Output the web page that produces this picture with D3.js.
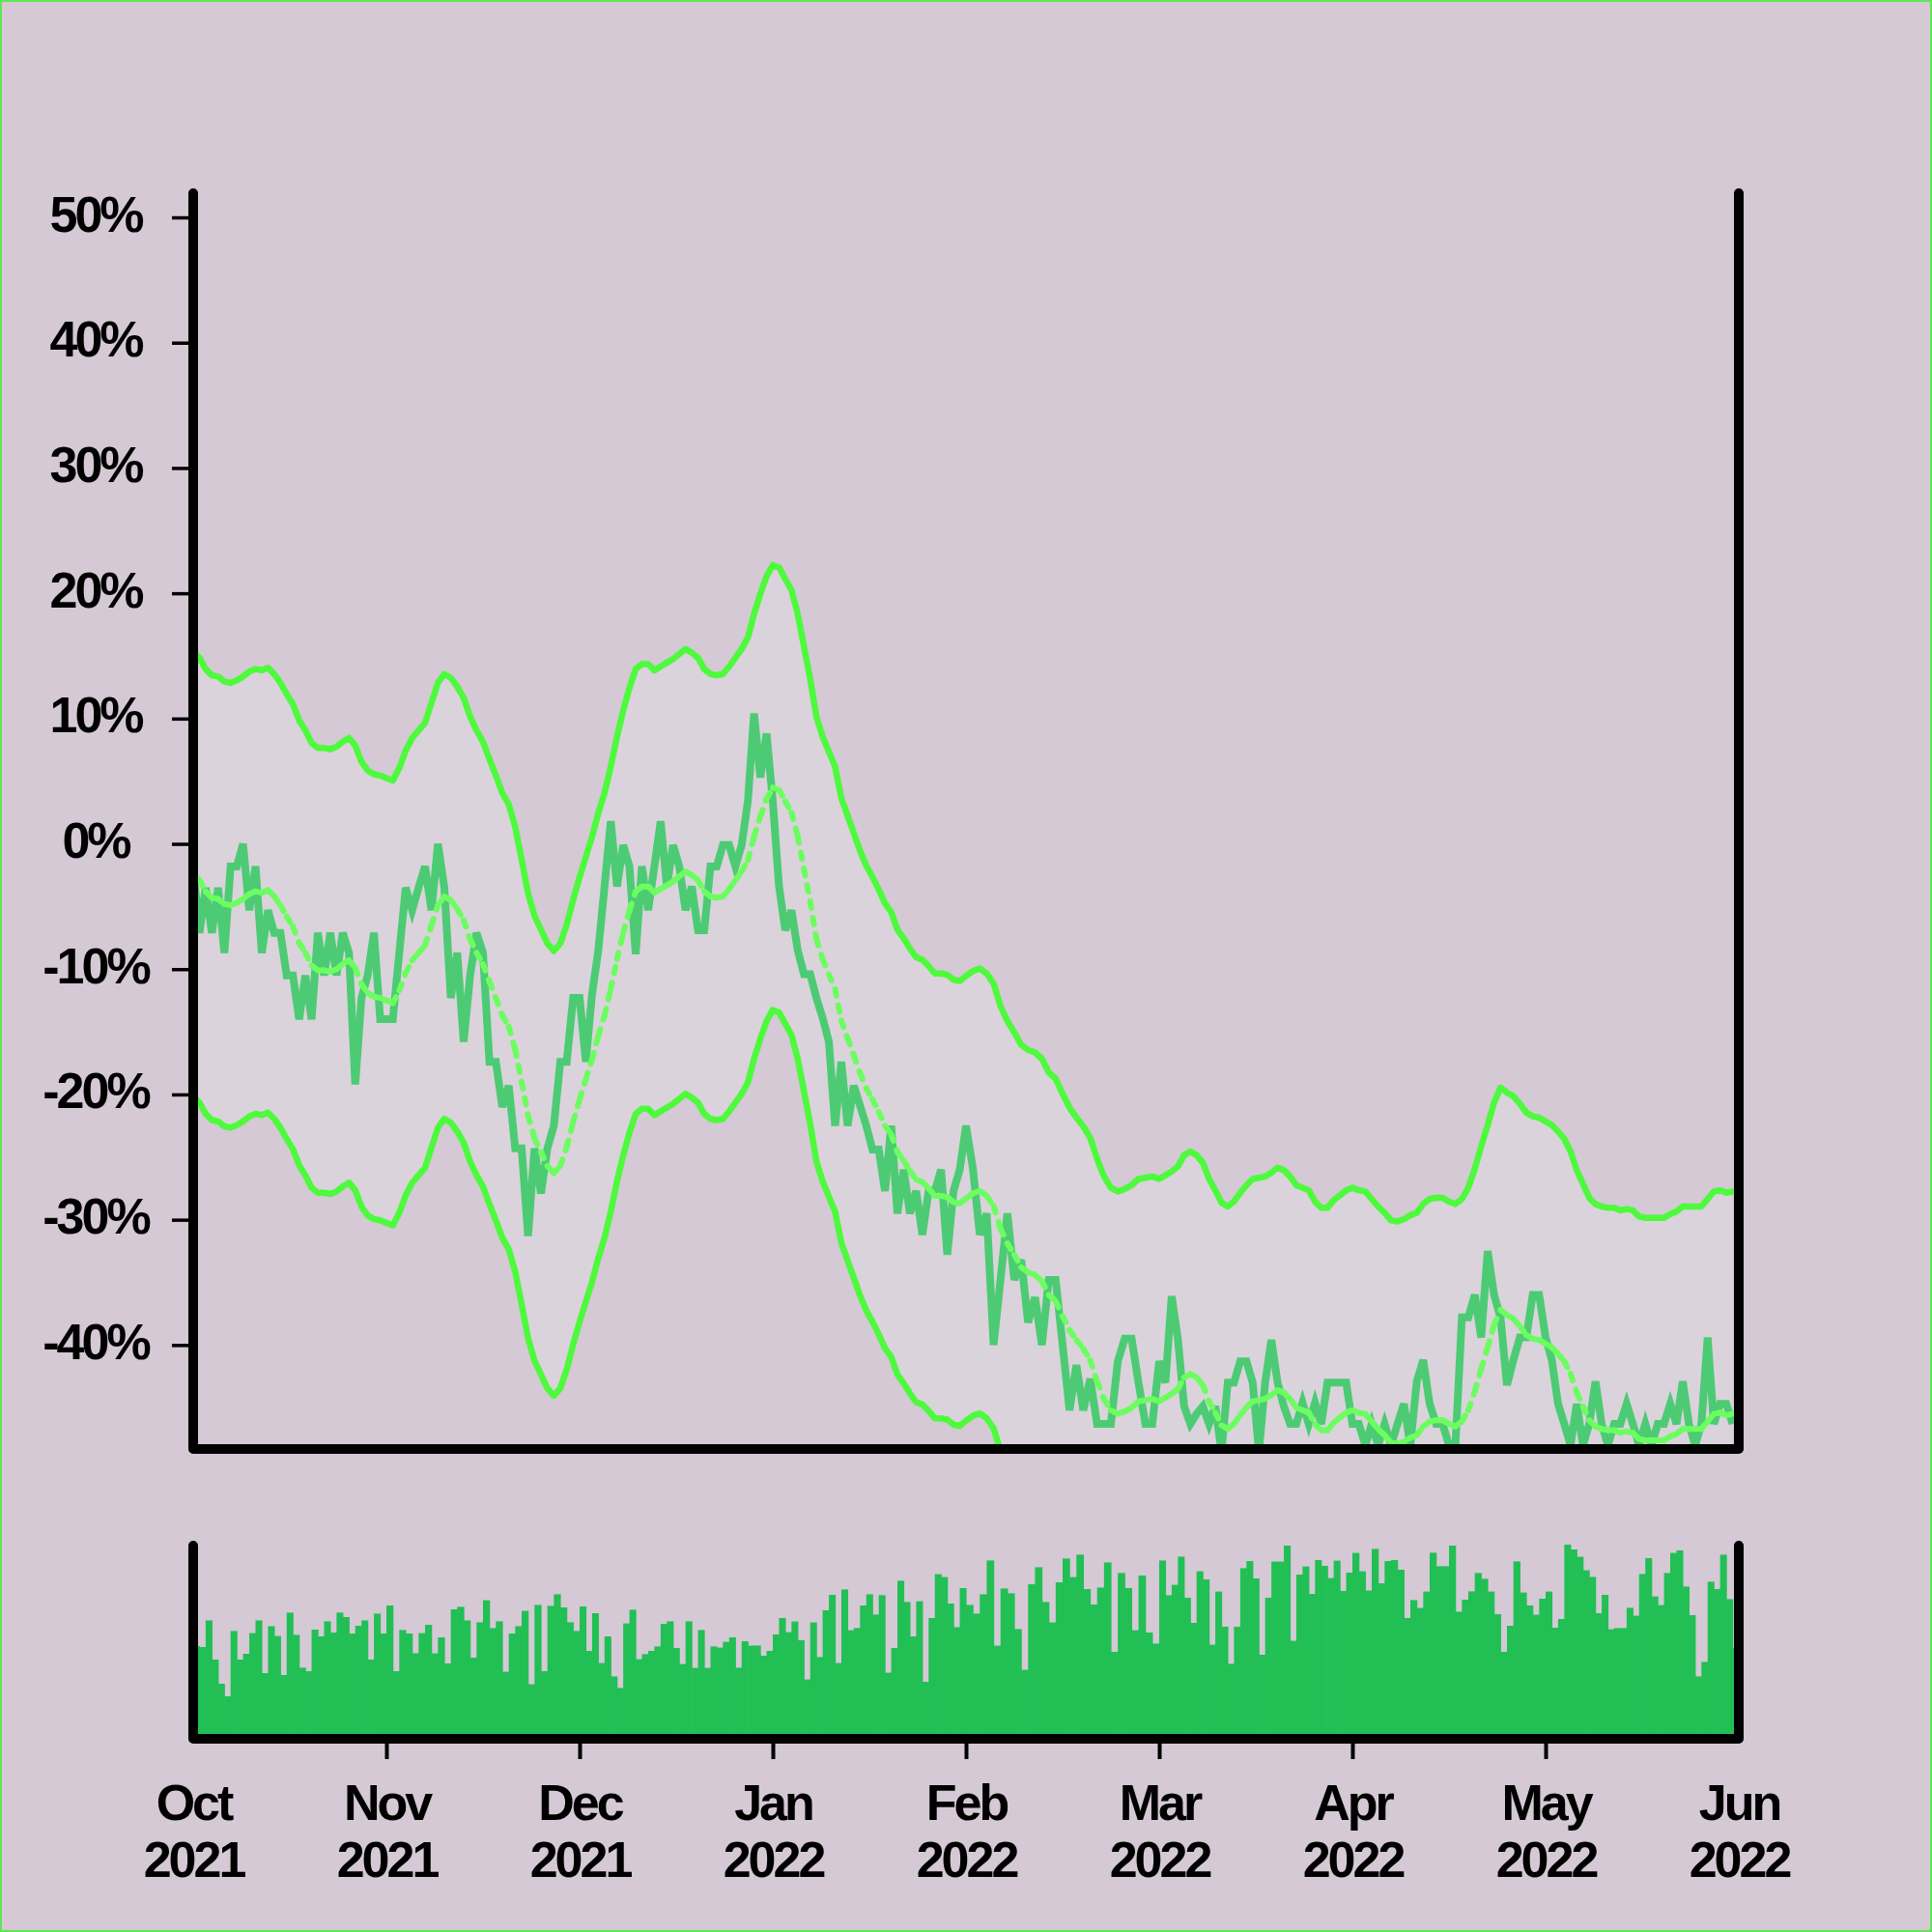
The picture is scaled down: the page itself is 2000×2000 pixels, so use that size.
<!DOCTYPE html>
<html><head><meta charset="utf-8">
<script src="https://cdn.jsdelivr.net/npm/d3@7"></script>
<style>body{margin:0;background:#d4c9d4}</style>
</head><body>
<svg id="chart" width="2000" height="2000"></svg>
<script>
// ---------- data ----------
const startDate = new Date(2021, 9, 1);
const endDate = new Date(2022, 5, 1);
const monthLabels = ["Oct","Nov","Dec","Jan","Feb","Mar","Apr","May","Jun"];
const yearLabels = ["2021","2021","2021","2022","2022","2022","2022","2022","2022"];
const yTickValues = [-40,-30,-20,-10,0,10,20,30,40,50];

// daily price change (%), Oct 1 2021 .. May 31 2022
const price = [
-1.8,-7.1,-3.5,-7.1,-3.5,-8.7,-1.8,-1.8,0.0,-5.3,-1.8,-8.7,-5.3,-7.1,-7.1,-10.5,-10.5,-14.0,-10.5,-14.0,-7.1,-10.5,-7.1,-10.5,-7.1,-8.7,-19.2,-12.3,-10.5,-7.1,-14.0,
-14.0,-14.0,-8.7,-3.5,-5.3,-3.5,-1.8,-5.3,0.0,-3.5,-12.3,-8.7,-15.8,-10.5,-7.1,-8.7,-17.4,-17.4,-21.0,-19.3,-24.3,-24.3,-31.3,-24.3,-27.9,-24.3,-22.5,-17.4,-17.4,-12.3,
-12.3,-17.4,-12.0,-8.5,-3.4,1.8,-3.4,-0.1,-1.8,-8.8,-1.8,-5.3,-1.8,1.8,-3.4,-0.1,-1.8,-5.3,-3.4,-6.9,-6.9,-1.8,-1.8,-0.1,-0.1,-1.8,-0.1,3.4,10.4,5.3,8.8,
3.4,-3.4,-6.9,-5.3,-8.5,-10.4,-10.4,-12.3,-13.9,-15.8,-22.5,-17.4,-22.5,-19.3,-20.9,-22.5,-24.4,-24.4,-27.7,-22.5,-29.5,-26.0,-29.5,-27.7,-31.2,-27.7,-27.7,-26.0,-32.8,-27.7,-26.0,
-22.5,-25.9,-31.2,-29.5,-40.0,-34.8,-29.5,-34.8,-33.2,-38.2,-36.2,-40.0,-34.8,-34.8,-40.0,-45.2,-41.6,-45.2,-42.7,-46.3,-46.3,-46.3,-41.3,-39.5,-39.5,-43.0,-46.3,-46.3,
-41.3,-43.0,-36.1,-39.5,-44.9,-46.3,-45.5,-44.9,-46.3,-44.9,-48.5,-43.0,-43.0,-41.3,-41.3,-43.0,-48.5,-43.0,-39.6,-43.0,-44.9,-46.3,-46.3,-44.6,-46.3,-44.6,-46.3,-43.0,-43.0,-43.0,-43.0,
-46.3,-46.3,-48.0,-46.3,-48.0,-46.3,-48.0,-46.3,-44.7,-48.0,-42.9,-41.2,-44.7,-46.3,-46.3,-48.0,-48.0,-37.8,-37.8,-36.0,-39.4,-32.5,-36.0,-37.8,-43.2,-41.2,-39.4,-39.4,-36.0,-36.0,
-39.4,-41.2,-44.7,-46.3,-48.0,-44.7,-48.0,-46.3,-42.9,-46.3,-48.0,-46.3,-46.3,-44.7,-46.3,-48.0,-46.3,-48.0,-46.3,-46.3,-44.7,-46.3,-42.9,-46.3,-48.0,-46.3,-39.4,-46.3,-44.7,-44.7,-46.3
];

// moving average (%), same dates
const movingAvg = [
-2.4,-2.9,-3.8,-4.3,-4.4,-4.8,-4.9,-4.7,-4.4,-4.0,-3.8,-3.9,-3.7,-4.2,-4.9,-5.8,-6.6,-7.9,-8.7,-9.7,-10.1,-10.1,-10.2,-10.0,-9.6,-9.3,-9.9,-11.2,-11.9,-12.2,-12.3,
-12.5,-12.7,-11.7,-10.3,-9.3,-8.7,-8.1,-6.5,-4.9,-4.2,-4.5,-5.2,-6.1,-7.6,-8.7,-9.6,-11.0,-12.3,-13.7,-14.6,-16.4,-19.0,-21.7,-23.5,-24.6,-25.7,-26.3,-25.7,-24.2,-22.2,
-20.4,-18.8,-17.2,-15.3,-13.7,-11.6,-9.2,-7.1,-5.3,-3.8,-3.4,-3.4,-3.9,-3.6,-3.3,-3.0,-2.6,-2.2,-2.5,-2.9,-3.8,-4.2,-4.3,-4.2,-3.6,-2.9,-2.2,-1.3,0.6,2.2,3.6,
4.5,4.3,3.4,2.5,0.6,-2.0,-4.6,-7.6,-9.2,-10.4,-11.6,-14.1,-15.5,-16.9,-18.3,-19.5,-20.4,-21.4,-22.5,-23.2,-24.6,-25.3,-26.1,-26.8,-27.0,-27.5,-28.1,-28.1,-28.2,-28.6,-28.7,
-28.3,-27.9,-27.7,-28.1,-28.9,-30.7,-31.9,-32.8,-33.8,-34.2,-34.4,-34.9,-36.0,-36.5,-37.7,-38.8,-39.6,-40.3,-41.2,-42.9,-44.3,-45.2,-45.5,-45.3,-45.0,-44.5,-44.4,-44.3,
-44.5,-44.2,-43.9,-43.5,-42.6,-42.3,-42.6,-43.2,-44.5,-45.4,-46.4,-46.7,-46.3,-45.6,-45.0,-44.5,-44.4,-44.3,-44.0,-43.6,-43.8,-44.3,-45.0,-45.2,-45.4,-46.3,-46.8,-46.8,-46.2,-45.8,-45.4,
-45.2,-45.4,-45.5,-46.1,-46.7,-47.2,-47.8,-47.9,-47.7,-47.4,-47.2,-46.5,-46.1,-46.0,-46.0,-46.3,-46.5,-46.1,-45.2,-43.7,-41.9,-40.2,-38.4,-37.2,-37.6,-37.9,-38.5,-39.2,-39.5,-39.6,
-39.9,-40.2,-40.7,-41.3,-42.3,-43.8,-44.9,-46.0,-46.5,-46.7,-46.8,-46.8,-47.0,-46.9,-47.0,-47.5,-47.6,-47.6,-47.6,-47.6,-47.3,-47.1,-46.7,-46.7,-46.7,-46.7,-46.1,-45.5,-45.4,-45.6,-45.5
];
const bandHalfWidth = 17.75;

// daily volume (relative units), same dates
const volume = [
48,47.5,61.3,41,28.5,22,55.8,41,44,54.7,61.3,34,58.3,53.2,33,65.3,53.8,36.8,35,56.5,53,60.8,55,65.3,63,54.5,58.5,61.3,41,64.8,54.5,
69,35,56.3,54.5,44.3,54.7,59,44.2,52.5,39,67,68.3,61.3,42,60.3,71.7,57.3,60.8,34.7,54.5,58.3,66.2,28.2,69.3,35,68.8,74.8,68,60.3,55.8,
68.5,45.5,65,39.2,53,32.3,26.3,59.7,66.8,41.2,43.8,45.5,47.8,59.5,60.8,47,38.7,60.8,36.7,56.3,36.7,47.8,47.2,50.2,52.5,36.8,50.5,48.2,48.3,43,45.5,
54,62.5,55.2,60.7,51,30.7,60.2,42.3,66.5,74.5,39.2,77.3,56.2,57.3,69,74.8,64.3,74.3,34.2,47,81.8,70.8,53,71.2,29.5,62.5,85.2,83.7,70,57.8,78,
69.3,64.8,74.8,92.3,48.2,77.8,75.3,56.8,35.7,80,88.8,70.8,60.2,81,93.3,83.7,95.3,77.5,69.5,78.3,91.3,45,85.8,78,56.2,84.5,55,49.3,
92.3,74.3,79.7,94.3,73,60,86.7,82.5,48.7,76.2,58,38.8,58,88.3,92,83,43.5,73,91.7,91.7,100,50.7,85,89.2,75,92.5,89.5,83.2,92.2,76.5,86,
96.2,86.7,76.7,98.3,80.5,92,92.5,87.5,62.5,71.8,67.7,76.2,96.3,89.3,89.3,100,65.8,72,76.3,85.8,82.8,76.2,64.5,45,58.5,91.8,75.7,69,64.2,72.5,
76.2,57.5,62,100.5,98,94.2,87.2,83.8,65,74.5,56.7,57.3,57.3,67.8,63.7,85.3,93.5,73.7,69.2,85.8,96.2,97.5,78.8,64,32.3,39.8,81.3,77.5,95.3,72.3,47
];

// ---------- layout ----------
const W = 2000, H = 2000;
const plot = {left: 200, right: 1800, top: 200, bottom: 1500};
const vol = {top: 1600, bottom: 1800};
const FONT = "'Liberation Sans', Arial, Helvetica, sans-serif";

const dates = d3.timeDay.range(startDate, endDate);
const monthStarts = d3.timeMonth.range(startDate, d3.timeDay.offset(endDate, 1));

const x = d3.scaleTime()
  .domain(monthStarts)
  .range(monthStarts.map((d, i) => plot.left + i * (plot.right - plot.left) / (monthStarts.length - 1)));
const y = d3.scaleLinear().domain([-48.3, 51.93]).range([plot.bottom, plot.top]);
const yv = d3.scaleLinear().domain([0, 100]).range([vol.bottom, vol.top]);

const svg = d3.select("#chart");
svg.append("rect").attr("width", W).attr("height", H).attr("fill", "#d4c9d4");
svg.append("rect").attr("x", 1).attr("y", 1).attr("width", W - 2).attr("height", H - 2)
  .attr("fill", "none").attr("stroke", "#5fe655").attr("stroke-width", 2);

const defs = svg.append("defs");
defs.append("clipPath").attr("id", "clipMain").append("rect")
  .attr("x", plot.left).attr("y", plot.top).attr("width", plot.right - plot.left).attr("height", plot.bottom - plot.top);
defs.append("clipPath").attr("id", "clipVol").append("rect")
  .attr("x", plot.left).attr("y", vol.top - 10).attr("width", plot.right - plot.left).attr("height", vol.bottom - vol.top + 10);

const main = svg.append("g").attr("clip-path", "url(#clipMain)");

// band fill
const area = d3.area()
  .x((d, i) => x(dates[i]))
  .y0(d => y(d - bandHalfWidth))
  .y1(d => y(d + bandHalfWidth));
main.append("path").datum(movingAvg).attr("d", area).attr("fill", "#dbd3db");

// band lines
const bandLine = off => d3.line().x((d, i) => x(dates[i])).y(d => y(d + off));
[bandHalfWidth, -bandHalfWidth].forEach(off => {
  main.append("path").datum(movingAvg).attr("d", bandLine(off))
    .attr("fill", "none").attr("stroke", "#4dfa3c").attr("stroke-width", 6.5)
    .attr("stroke-linejoin", "round").attr("stroke-linecap", "round");
});

// price line
const priceLine = d3.line().x((d, i) => x(dates[i])).y(d => y(d));
main.append("path").datum(price).attr("d", priceLine)
  .attr("fill", "none").attr("stroke", "#4ccb74").attr("stroke-width", 8)
  .attr("stroke-linejoin", "miter").attr("stroke-miterlimit", 4);

// moving average drawn segment by segment (dash pattern restarts per segment)
const maPts = movingAvg.map((v, i) => [x(dates[i]), y(v)]);
main.append("g").selectAll("line").data(d3.pairs(maPts)).join("line")
  .attr("x1", d => d[0][0]).attr("y1", d => d[0][1])
  .attr("x2", d => d[1][0]).attr("y2", d => d[1][1])
  .attr("stroke", "#6cfd60").attr("stroke-width", 6)
  .attr("stroke-linecap", "round").attr("stroke-dasharray", "7,10");

// volume bars
const volG = svg.append("g").attr("clip-path", "url(#clipVol)");
volG.selectAll("rect").data(volume).join("rect")
  .attr("x", (d, i) => x(dates[i]))
  .attr("width", (d, i) => x(d3.timeDay.offset(dates[i], 1)) - x(dates[i]) + 0.6)
  .attr("y", d => yv(d))
  .attr("height", d => vol.bottom - yv(d))
  .attr("fill", "#22bf55");

// frames
svg.append("path")
  .attr("d", d3.line()([[plot.left, plot.top], [plot.left, plot.bottom], [plot.right, plot.bottom], [plot.right, plot.top]]))
  .attr("fill", "none").attr("stroke", "#000").attr("stroke-width", 10)
  .attr("stroke-linecap", "round").attr("stroke-linejoin", "round");
svg.append("path")
  .attr("d", d3.line()([[plot.left, vol.top], [plot.left, vol.bottom], [plot.right, vol.bottom], [plot.right, vol.top]]))
  .attr("fill", "none").attr("stroke", "#000").attr("stroke-width", 10)
  .attr("stroke-linecap", "round").attr("stroke-linejoin", "round");

// y axis
const yAxis = svg.append("g").attr("transform", `translate(${plot.left},0)`)
  .call(d3.axisLeft(y).tickValues(yTickValues).tickSize(22).tickFormat(d => d + "%"));
yAxis.select(".domain").remove();
yAxis.selectAll(".tick line").attr("stroke", "#000").attr("stroke-width", 3.5);
yAxis.selectAll(".tick text")
  .attr("x", -101).attr("dy", null).attr("y", 14)
  .attr("text-anchor", "middle")
  .attr("fill", "#000")
  .style("font-family", FONT).style("font-weight", "700").style("font-size", "52px")
  .style("letter-spacing", "-3px");

// x axis
const xAxis = svg.append("g").attr("transform", `translate(0,${vol.bottom})`)
  .call(d3.axisBottom(x).tickValues(monthStarts).tickSize(21).tickFormat(""));
xAxis.select(".domain").remove();
xAxis.selectAll(".tick line").attr("stroke", "#000").attr("stroke-width", 4)
  .attr("opacity", (d, i) => (i === 0 || i === monthStarts.length - 1) ? 0 : 1);
xAxis.selectAll(".tick text").remove();
xAxis.selectAll(".tick").each(function(d, i) {
  const t = d3.select(this).append("text")
    .attr("text-anchor", "middle").attr("fill", "#000")
    .style("font-family", FONT).style("font-weight", "700").style("font-size", "52px")
    .style("letter-spacing", "-3px");
  t.append("tspan").attr("x", 0).attr("y", 84).text(monthLabels[i]);
  t.append("tspan").attr("x", 0).attr("y", 143).text(yearLabels[i]);
});
</script>
</body></html>
